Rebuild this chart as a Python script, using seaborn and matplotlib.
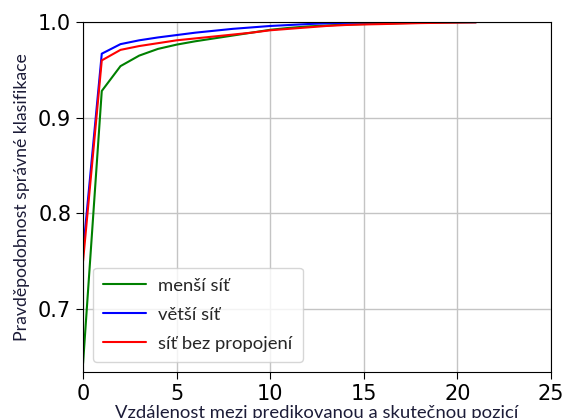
import numpy as np
import pandas as pd
import matplotlib
matplotlib.use("Agg")
import matplotlib.pyplot as plt
import seaborn as sns

distance = list(range(22))
mensi = [0.643, 0.928, 0.954, 0.965, 0.972, 0.9765, 0.980, 0.983, 0.986, 0.989, 0.992,
         0.994, 0.9955, 0.9965, 0.9975, 0.998, 0.9985, 0.999, 0.9993, 0.9996, 0.9998, 1.0]
vetsi = [0.76, 0.967, 0.977, 0.981, 0.984, 0.9865, 0.989, 0.991, 0.993, 0.9945, 0.996,
         0.997, 0.998, 0.9988, 0.9993, 0.9996, 0.9998, 0.9999, 1.0, 1.0, 1.0, 1.0]
bez = [0.75, 0.960, 0.971, 0.975, 0.978, 0.981, 0.983, 0.985, 0.987, 0.989, 0.9915,
       0.993, 0.9945, 0.996, 0.997, 0.9976, 0.998, 0.9985, 0.999, 0.9993, 0.9996, 0.9998]
labels = ["menší síť", "větší síť", "síť bez propojení"]
colors = ["green", "blue", "red"]

df = pd.concat([
    pd.DataFrame({"x": distance, "y": vals, "sit": lab})
    for vals, lab in zip([mensi, vetsi, bez], labels)
])

sns.set_style("ticks")
plt.rcParams['font.family'] = ['DejaVu Sans']

fig = plt.figure(figsize=(5.65, 4.18), dpi=100)
ax = fig.add_axes([0.147, 0.11, 0.828, 0.837])
sns.lineplot(data=df, x="x", y="y", hue="sit", palette=dict(zip(labels, colors)),
             linewidth=1.5, ax=ax)
ax.set_xlim(0, 25)
ax.set_ylim(0.634, 1.0)
ax.set_xticks([0, 5, 10, 15, 20, 25])
ax.set_yticks([0.7, 0.8, 0.9, 1.0])
ax.tick_params(labelsize=15, length=5, colors='black')
ax.grid(True, color='#c4c4c4', linewidth=1)
for s in ax.spines.values():
    s.set_visible(True)
    s.set_color('black')
ax.set_xlabel("Vzdálenost mezi predikovanou a skutečnou pozicí",
              fontfamily='Lato', fontsize=13.3, color='#1c1c38', labelpad=1)
ax.set_ylabel("Pravděpodobnost správné klasifikace",
              fontfamily='Lato', fontsize=12.7, color='#1c1c38', labelpad=6)
leg = ax.legend(loc='lower left', prop={'family': 'Lato', 'size': 13.3},
                frameon=True, handlelength=2.3, handletextpad=0.7, borderpad=0.55,
                labelspacing=0.7, borderaxespad=0,
                bbox_to_anchor=(0.021, 0.029))
leg.get_frame().set_edgecolor('#cccccc')
fig.savefig("out.png", dpi=100)
